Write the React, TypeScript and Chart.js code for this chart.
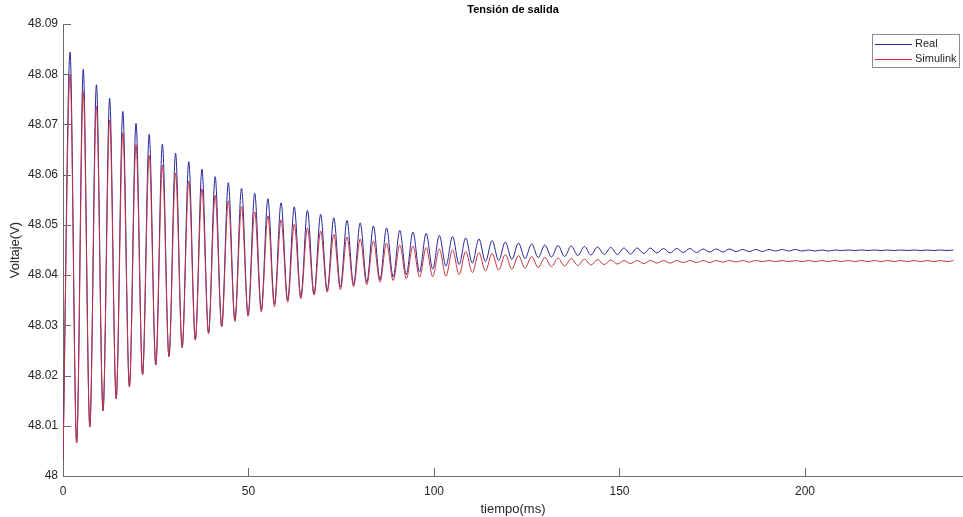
import React, { useEffect, useRef } from "react";
import { Chart, registerables } from "chart.js";

Chart.register(...registerables);

// Times (ms) of the local maxima / minima
const peakTimesMs = [
  1.9, 5.46, 9.01, 12.57, 16.12, 19.68, 23.23, 26.79, 30.34, 33.9,
  37.45, 41.01, 44.56, 48.12, 51.67, 55.23, 58.78, 62.34, 65.89, 69.45,
  73.0, 76.56, 80.11, 83.67, 87.22, 90.78, 94.33, 97.89, 101.44, 105.0,
  108.55, 112.11, 115.66, 119.22, 122.77, 126.33, 129.88, 133.44, 136.99, 140.55,
  144.1, 147.66, 151.21, 154.77, 158.32, 161.88, 165.43, 168.99, 172.54, 176.1,
  179.65, 183.21, 186.76, 190.32, 193.87, 197.43, 200.98, 204.54, 208.09, 211.65,
  215.2, 218.76, 222.31, 225.87, 229.42, 232.98, 236.53, 240.0,
];
const troughTimesMs = [
  3.68, 7.23, 10.79, 14.34, 17.9, 21.45, 25.01, 28.56, 32.12, 35.67,
  39.23, 42.78, 46.34, 49.89, 53.45, 57.0, 60.56, 64.11, 67.67, 71.22,
  74.78, 78.33, 81.89, 85.44, 89.0, 92.55, 96.11, 99.66, 103.22, 106.77,
  110.33, 113.88, 117.44, 120.99, 124.55, 128.1, 131.66, 135.21, 138.77, 142.32,
  145.88, 149.43, 152.99, 156.54, 160.1, 163.65, 167.21, 170.76, 174.32, 177.87,
  181.43, 184.98, 188.54, 192.09, 195.65, 199.2, 202.76, 206.31, 209.87, 213.42,
  216.98, 220.53, 224.09, 227.64, 231.2, 234.75, 238.31,
];

// Real
const realStart = 48.0032;
const realPeaks = [
  48.0844, 48.081, 48.0779, 48.0752, 48.0726, 48.0702, 48.068, 48.0661, 48.0643, 48.0626,
  48.0611, 48.0596, 48.0584, 48.0573, 48.0563, 48.0552, 48.0544, 48.0536, 48.0529, 48.0521,
  48.0514, 48.0509, 48.0504, 48.0498, 48.0494, 48.0489, 48.0486, 48.0483, 48.0479, 48.0477,
  48.0474, 48.0472, 48.0469, 48.0466, 48.0464, 48.0462, 48.046, 48.0459, 48.0458, 48.0457,
  48.0456, 48.0455, 48.0454, 48.0454, 48.0454, 48.0453, 48.0453, 48.0453, 48.0452, 48.0452,
  48.0452, 48.0451, 48.0451, 48.0451, 48.0451, 48.0451, 48.045, 48.045, 48.045, 48.045,
  48.045, 48.045, 48.045, 48.045, 48.045, 48.045, 48.045, 48.045,
];
const realTroughs = [
  48.0066, 48.0098, 48.013, 48.0154, 48.0178, 48.0202, 48.0221, 48.0238, 48.0256, 48.0271,
  48.0284, 48.0298, 48.031, 48.0321, 48.0331, 48.0343, 48.0351, 48.0357, 48.0363, 48.0369,
  48.0376, 48.0381, 48.0386, 48.0391, 48.0396, 48.0401, 48.0406, 48.0412, 48.0418, 48.0421,
  48.0424, 48.0427, 48.0429, 48.0431, 48.0433, 48.0435, 48.0436, 48.0437, 48.0439, 48.044,
  48.0441, 48.0441, 48.0442, 48.0443, 48.0444, 48.0444, 48.0445, 48.0445, 48.0446, 48.0446,
  48.0447, 48.0447, 48.0447, 48.0448, 48.0448, 48.0448, 48.0448, 48.0448, 48.0449, 48.0449,
  48.0449, 48.0449, 48.0449, 48.0449, 48.0449, 48.0449, 48.0449,
];

// Simulink
const simStart = 48.003;
const simPeaks = [
  48.08, 48.0766, 48.0736, 48.0709, 48.0683, 48.066, 48.0639, 48.0619, 48.0603, 48.0587,
  48.0572, 48.0559, 48.0548, 48.0536, 48.0526, 48.0518, 48.051, 48.0501, 48.0494, 48.0488,
  48.0481, 48.0476, 48.0472, 48.0468, 48.0464, 48.046, 48.0458, 48.0455, 48.0452, 48.045,
  48.0447, 48.0445, 48.0443, 48.0441, 48.0439, 48.0437, 48.0435, 48.0434, 48.0433, 48.0432,
  48.0431, 48.043, 48.0429, 48.0429, 48.0429, 48.0429, 48.0429, 48.0429, 48.0429, 48.0429,
  48.0429, 48.0429, 48.0429, 48.0429, 48.0429, 48.0429, 48.0429, 48.0429, 48.0429, 48.0429,
  48.0429, 48.0429, 48.0429, 48.0429, 48.0429, 48.0429, 48.0429, 48.0429,
];
const simTroughs = [
  48.0066, 48.0098, 48.013, 48.0154, 48.0178, 48.0202, 48.0221, 48.0238, 48.0256, 48.0271,
  48.0284, 48.0297, 48.0308, 48.0318, 48.0327, 48.0337, 48.0346, 48.0353, 48.036, 48.0366,
  48.0371, 48.0377, 48.0381, 48.0386, 48.0389, 48.0393, 48.0396, 48.0397, 48.0398, 48.0401,
  48.0405, 48.0408, 48.041, 48.0412, 48.0414, 48.0415, 48.0417, 48.0418, 48.0419, 48.042,
  48.0421, 48.0422, 48.0423, 48.0423, 48.0424, 48.0424, 48.0425, 48.0425, 48.0425, 48.0426,
  48.0426, 48.0426, 48.0427, 48.0427, 48.0427, 48.0427, 48.0427, 48.0427, 48.0427, 48.0427,
  48.0427, 48.0427, 48.0427, 48.0427, 48.0427, 48.0427, 48.0427,
];

const xTicks = [0, 50, 100, 150, 200];
const xTickLabels = ["0", "50", "100", "150", "200"];
const yTicks = [48, 48.01, 48.02, 48.03, 48.04, 48.05, 48.06, 48.07, 48.08, 48.09];
const yTickLabels = ["48", "48.01", "48.02", "48.03", "48.04", "48.05", "48.06", "48.07", "48.08", "48.09"];

const FONT = "'Liberation Sans', Arial, Helvetica, sans-serif";
const TEXT = "#262626";
const AXIS = "#6a6a6a";
const BLUE = "#26269c";
const RED = "#c8323e";

function buildSeries(start: number, peaks: number[], troughs: number[]) {
  const pts: { x: number; y: number }[] = [{ x: 0, y: start }];
  for (let i = 0; i < peaks.length; i++) {
    pts.push({ x: peakTimesMs[i], y: peaks[i] });
    if (i < troughs.length) pts.push({ x: troughTimesMs[i], y: troughs[i] });
  }
  return pts;
}

const inwardTicks = {
  id: "inwardTicks",
  afterDraw(chart: any) {
    const { ctx, chartArea, scales } = chart;
    const len = 8;
    ctx.save();
    ctx.strokeStyle = AXIS;
    ctx.lineWidth = 1;
    ctx.beginPath();
    scales.x.ticks.forEach((t: any) => {
      const px = Math.round(scales.x.getPixelForValue(t.value)) + 0.5;
      ctx.moveTo(px, chartArea.bottom);
      ctx.lineTo(px, chartArea.bottom - len);
    });
    scales.y.ticks.forEach((t: any) => {
      const py = Math.round(scales.y.getPixelForValue(t.value)) + 0.5;
      ctx.moveTo(chartArea.left, py);
      ctx.lineTo(chartArea.left + len, py);
    });
    ctx.stroke();
    ctx.restore();
  },
};

const matlabLegend = {
  id: "matlabLegend",
  afterDraw(chart: any) {
    const ctx = chart.ctx;
    const left = 872, top = 34, right = 959, bottom = 67;
    ctx.save();
    ctx.fillStyle = "#ffffff";
    ctx.fillRect(left, top, right - left, bottom - top);
    ctx.strokeStyle = "#8c8c8c";
    ctx.lineWidth = 1;
    ctx.strokeRect(left + 0.5, top + 0.5, right - left, bottom - top);
    const rows = [44, 59];
    ctx.font = `11px ${FONT}`;
    ctx.textBaseline = "middle";
    ctx.textAlign = "left";
    chart.data.datasets.forEach((ds: any, i: number) => {
      const y = rows[i] + 0.5;
      ctx.strokeStyle = ds.borderColor;
      ctx.beginPath();
      ctx.moveTo(875, y);
      ctx.lineTo(912, y);
      ctx.stroke();
      ctx.fillStyle = TEXT;
      ctx.fillText(ds.label, 915, rows[i]);
    });
    ctx.restore();
  },
};

export default function App() {
  const ref = useRef<HTMLCanvasElement | null>(null);

  useEffect(() => {
    if (!ref.current) return;
    const chart = new Chart(ref.current, {
      type: "line",
      data: {
        datasets: [
          {
            label: "Real",
            data: buildSeries(realStart, realPeaks, realTroughs),
            borderColor: BLUE,
            borderWidth: 1,
            pointRadius: 0,
            cubicInterpolationMode: "monotone",
            order: 2,
          },
          {
            label: "Simulink",
            data: buildSeries(simStart, simPeaks, simTroughs),
            borderColor: RED,
            borderWidth: 1,
            pointRadius: 0,
            cubicInterpolationMode: "monotone",
            order: 1,
          },
        ],
      },
      options: {
        animation: false,
        responsive: false,
        devicePixelRatio: 1,
        layout: { padding: { left: 0, right: 0, top: 0, bottom: 0 } },
        plugins: {
          legend: { display: false },
          tooltip: { enabled: false },
          title: {
            display: true,
            text: "Tensión de salida",
            fullSize: false,
            color: "#000",
            font: { family: FONT, size: 11, weight: "bold" },
            padding: { top: 3, bottom: 7.8 },
          },
        },
        scales: {
          x: {
            type: "linear",
            min: 0,
            max: 242.6,
            afterBuildTicks: (scale: any) => {
              scale.ticks = xTicks.map((v) => ({ value: v }));
            },
            afterFit: (scale: any) => {
              scale.height = 41;
            },
            grid: { display: false, drawTicks: false },
            border: { display: true, color: AXIS, width: 1 },
            ticks: {
              padding: 8,
              color: TEXT,
              font: { family: FONT, size: 12 },
              maxRotation: 0,
              callback: (_v: any, i: number) => xTickLabels[i],
            },
            title: {
              display: true,
              text: "tiempo(ms)",
              color: TEXT,
              font: { family: FONT, size: 13 },
              padding: { top: 0, bottom: 0 },
            },
          },
          y: {
            type: "linear",
            min: 48,
            max: 48.09,
            afterBuildTicks: (scale: any) => {
              scale.ticks = yTicks.map((v) => ({ value: v }));
            },
            afterFit: (scale: any) => {
              scale.width = 63;
            },
            grid: { display: false, drawTicks: false },
            border: { display: true, color: AXIS, width: 1 },
            ticks: {
              padding: 5,
              color: TEXT,
              font: { family: FONT, size: 12 },
              callback: (_v: any, i: number) => yTickLabels[i],
            },
            title: {
              display: true,
              text: "Voltaje(V)",
              color: TEXT,
              font: { family: FONT, size: 13 },
              padding: { top: 8, bottom: 0 },
            },
          },
        },
      },
      plugins: [inwardTicks, matlabLegend],
    } as any);
    return () => chart.destroy();
  }, []);

  return (
    <div style={{ position: "fixed", left: 0, top: 0, width: 963, height: 517, background: "#fff" }}>
      <canvas ref={ref} width={963} height={517} style={{ display: "block" }} />
    </div>
  );
}
